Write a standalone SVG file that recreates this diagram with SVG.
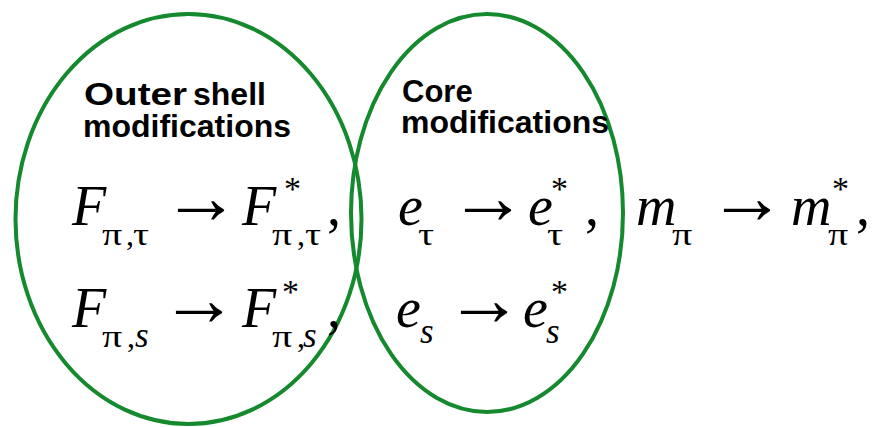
<svg xmlns="http://www.w3.org/2000/svg" width="875" height="427" viewBox="0 0 875 427">
<style>
.ring{fill:none;stroke:#15892d;stroke-width:4}
.lbl{font-family:"Liberation Sans",Arial,sans-serif;font-weight:bold;font-size:32px;fill:#000}
.m{font-family:"Liberation Serif","Times New Roman",serif;fill:#000}
.big{font-size:56px}
.arr{font-size:78px;text-anchor:middle}
.it{font-style:italic}
.sub{font-size:32px}
.ss{font-size:35px;font-style:italic}
.sup{font-size:34px}
</style>
<rect width="875" height="427" fill="#fff"/>
<g id="outer-shell">
<ellipse class="ring" cx="188.5" cy="219" rx="173" ry="205"/>
<text class="lbl" x="84" y="105" textLength="103" lengthAdjust="spacingAndGlyphs">Outer</text>
<text class="lbl" x="193" y="105">shell</text>
<text class="lbl" x="83" y="137">modifications</text>
</g>
<g id="core">
<ellipse class="ring" cx="487" cy="213" rx="136" ry="199"/>
<text class="lbl" x="402" y="102" style="font-size:31px">Core</text>
<text class="lbl" x="401" y="133">modifications</text>
</g>
<g id="row1" class="m">
<text class="big it" x="72" y="225">F</text>
<text class="sub" transform="translate(102 245) scale(1.25 1)">π</text>
<text class="sub" x="126" y="245">,</text>
<text class="sub" transform="translate(133 245) scale(1.25 1)">τ</text>
<text class="arr" x="201" y="223">→</text>
<text class="big it" x="242" y="225">F</text>
<text class="sup" x="284" y="200">*</text>
<text class="sub" transform="translate(272 245) scale(1.25 1)">π</text>
<text class="sub" x="297" y="245">,</text>
<text class="sub" transform="translate(305 245) scale(1.25 1)">τ</text>
<text class="big" x="327" y="225">,</text>
<text class="big it" x="398" y="225">e</text>
<text class="sub" transform="translate(418 245) scale(1.25 1)">τ</text>
<text class="arr" x="488" y="223">→</text>
<text class="big it" x="528" y="225">e</text>
<text class="sup" x="551" y="200">*</text>
<text class="sub" transform="translate(547 245) scale(1.25 1)">τ</text>
<text class="big" x="585" y="225">,</text>
<text class="big it" x="636" y="225">m</text>
<text class="sub" transform="translate(672 245) scale(1.25 1)">π</text>
<text class="arr" x="747" y="223">→</text>
<text class="big it" x="791" y="225">m</text>
<text class="sup" x="832" y="200">*</text>
<text class="sub" transform="translate(828 245) scale(1.25 1)">π</text>
<text class="big" x="856" y="225">,</text>
</g>
<g id="row2" class="m">
<text class="big it" x="72" y="327">F</text>
<text class="sub" transform="translate(102 347) scale(1.25 1)">π</text>
<text class="sub" x="127" y="347">,</text>
<text class="ss" x="135" y="347">s</text>
<text class="arr" x="199" y="325">→</text>
<text class="big it" x="242" y="327">F</text>
<text class="sup" x="282" y="303">*</text>
<text class="sub" transform="translate(272 347) scale(1.25 1)">π</text>
<text class="sub" x="297" y="347">,</text>
<text class="ss" x="303" y="347">s</text>
<text class="big" x="327" y="327">,</text>
<text class="big it" x="396" y="327">e</text>
<text class="ss" x="420" y="343">s</text>
<text class="arr" x="484" y="325">→</text>
<text class="big it" x="523" y="327">e</text>
<text class="sup" x="551" y="303">*</text>
<text class="ss" x="546" y="343">s</text>
</g>
</svg>
